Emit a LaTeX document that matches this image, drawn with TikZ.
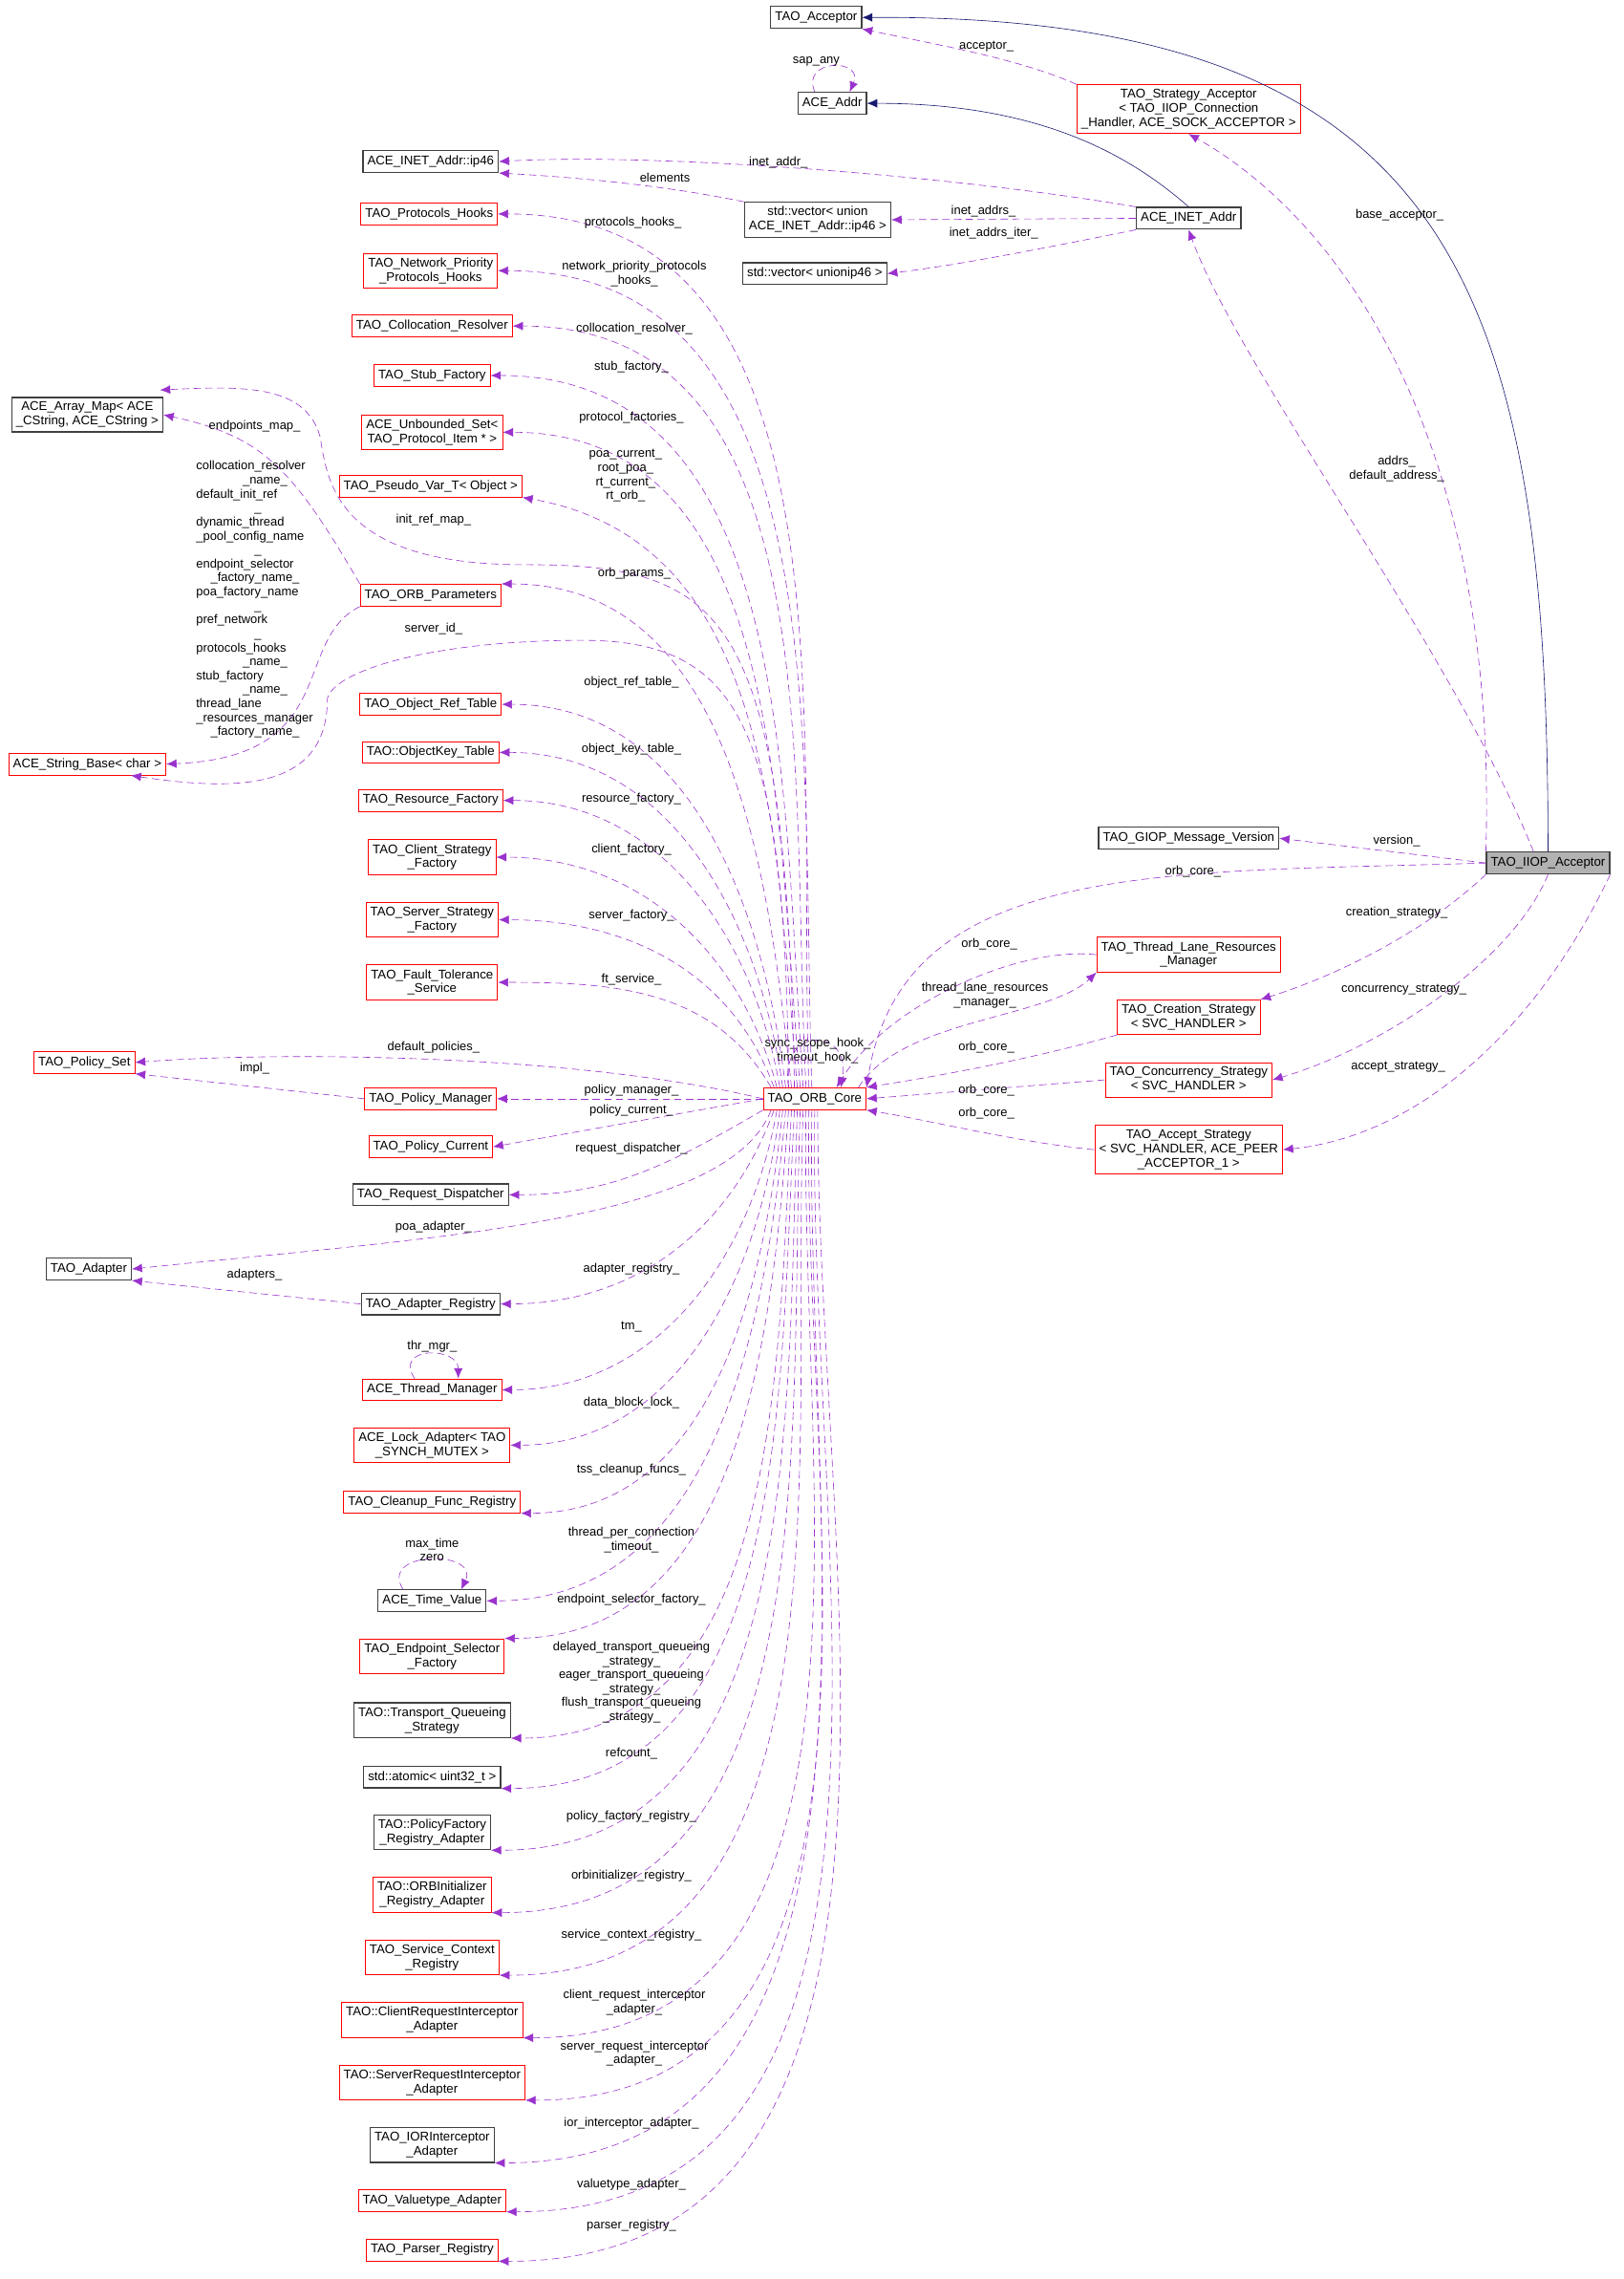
\documentclass[tikz,border=0pt]{standalone}
\usepackage{fontspec}
\setmainfont{Liberation Sans}
\usetikzlibrary{arrows.meta}
\definecolor{depcol}{HTML}{9A32CD}
\definecolor{inhcol}{HTML}{191970}
\tikzset{
  cls/.style={draw=red, line width=0.6pt, align=center, inner sep=3pt, minimum height=15pt, font=\fontsize{8.7}{9.8}\selectfont},
  clsb/.style={cls, draw=black!75, line width=0.8pt},
  cur/.style={clsb, fill=black!30},
  dep/.style={depcol, dashed, dash pattern=on 5pt off 3pt, -{Latex[length=7pt,width=6pt]}},
  inh/.style={inhcol, -{Latex[length=7pt,width=6pt]}},
  lbl/.style={align=center, inner sep=0pt, font=\fontsize{8.5}{9.6}\selectfont}
}
\begin{document}
\begin{tikzpicture}[x=1pt,y=1pt]
\useasboundingbox (0,0) rectangle (1116,-1566);
% top part
\node[clsb] (acceptor) at (561,-12) {TAO\_Acceptor};
\node[clsb] (addr) at (572,-71) {ACE\_Addr};
\node[cls] (stratacc) at (817,-75) {TAO\_Strategy\_Acceptor\\< TAO\_IIOP\_Connection\\\_Handler, ACE\_SOCK\_ACCEPTOR >};
\node[clsb] (ip46) at (296,-111) {ACE\_INET\_Addr::ip46};
\node[clsb] (vecunion) at (562,-151) {std::vector< union\\ ACE\_INET\_Addr::ip46 >};
\node[clsb] (inetaddr) at (817,-150) {ACE\_INET\_Addr};
\node[clsb] (vecip) at (560,-188) {std::vector< unionip46 >};
% left column
\node[cls] (prothooks) at (295,-147) {TAO\_Protocols\_Hooks};
\node[cls] (netprio) at (296,-186) {TAO\_Network\_Priority\\\_Protocols\_Hooks};
\node[cls] (collres) at (297,-224) {TAO\_Collocation\_Resolver};
\node[cls] (stubfac) at (297,-258) {TAO\_Stub\_Factory};
\node[cls] (unbset) at (297,-297) {ACE\_Unbounded\_Set<\\TAO\_Protocol\_Item * >};
\node[cls] (pseudo) at (296,-334) {TAO\_Pseudo\_Var\_T< Object >};
\node[clsb] (arraymap) at (60,-285) {ACE\_Array\_Map< ACE\\\_CString, ACE\_CString >};
\node[cls] (orbparams) at (296,-409) {TAO\_ORB\_Parameters};
\node[cls] (strbase) at (60,-525) {ACE\_String\_Base< char >};
\node[cls] (objref) at (296,-484) {TAO\_Object\_Ref\_Table};
\node[cls] (objkey) at (296,-517) {TAO::ObjectKey\_Table};
\node[cls] (resfac) at (296,-550) {TAO\_Resource\_Factory};
\node[cls] (clifac) at (297,-589) {TAO\_Client\_Strategy\\\_Factory};
\node[cls] (srvfac) at (297,-632) {TAO\_Server\_Strategy\\\_Factory};
\node[cls] (ftserv) at (297,-675) {TAO\_Fault\_Tolerance\\\_Service};
\node[cls] (polset) at (58,-730) {TAO\_Policy\_Set};
\node[cls] (polmgr) at (296,-755) {TAO\_Policy\_Manager};
\node[cls] (polcur) at (296,-788) {TAO\_Policy\_Current};
\node[clsb] (reqdisp) at (296,-821) {TAO\_Request\_Dispatcher};
\node[clsb] (adapter) at (61,-872) {TAO\_Adapter};
\node[clsb] (adreg) at (296,-896) {TAO\_Adapter\_Registry};
\node[cls] (thrmgr) at (297,-955) {ACE\_Thread\_Manager};
\node[cls] (lockad) at (297,-993) {ACE\_Lock\_Adapter< TAO\\\_SYNCH\_MUTEX >};
\node[cls] (cleanup) at (297,-1032) {TAO\_Cleanup\_Func\_Registry};
\node[clsb] (timeval) at (297,-1100) {ACE\_Time\_Value};
\node[cls] (epsel) at (297,-1138) {TAO\_Endpoint\_Selector\\\_Factory};
\node[clsb] (transq) at (297,-1182) {TAO::Transport\_Queueing\\\_Strategy};
\node[clsb] (atomic) at (297,-1221) {std::atomic< uint32\_t >};
\node[clsb] (polfacreg) at (297,-1259) {TAO::PolicyFactory\\\_Registry\_Adapter};
\node[cls] (orbinit) at (297,-1302) {TAO::ORBInitializer\\\_Registry\_Adapter};
\node[cls] (svcctx) at (297,-1345) {TAO\_Service\_Context\\\_Registry};
\node[cls] (clireq) at (297,-1388) {TAO::ClientRequestInterceptor\\\_Adapter};
\node[cls] (srvreq) at (297,-1431) {TAO::ServerRequestInterceptor\\\_Adapter};
\node[clsb] (iorint) at (297,-1474) {TAO\_IORInterceptor\\\_Adapter};
\node[cls] (valtype) at (297,-1512) {TAO\_Valuetype\_Adapter};
\node[cls] (parser) at (297,-1546) {TAO\_Parser\_Registry};
% middle and right
\node[cls] (core) at (560,-755) {TAO\_ORB\_Core};
\node[clsb] (giop) at (817,-576) {TAO\_GIOP\_Message\_Version};
\node[cur] (iiop) at (1064,-593) {TAO\_IIOP\_Acceptor};
\node[cls] (tlrm) at (817,-656) {TAO\_Thread\_Lane\_Resources\\\_Manager};
\node[cls] (creat) at (817,-699) {TAO\_Creation\_Strategy\\< SVC\_HANDLER >};
\node[cls] (concur) at (817,-742) {TAO\_Concurrency\_Strategy\\< SVC\_HANDLER >};
\node[cls] (accstrat) at (817,-790) {TAO\_Accept\_Strategy\\< SVC\_HANDLER, ACE\_PEER\\\_ACCEPTOR\_1 >};

% inheritance
\draw[inh] (iiop.north) .. controls (1064,-200) and (1000,-10) .. (acceptor.east);
\draw[inh] (inetaddr.north) .. controls (780,-110) and (720,-71) .. (addr.east);

% top relations
\draw[dep] (stratacc.north west) .. controls (700,-40) and (640,-30) .. (acceptor.south east);
\node[lbl] at (678,-32) {acceptor\_};
\draw[dep] ([xshift=-12pt]addr.north) .. controls (550,-40) and (594,-40) .. ([xshift=12pt]addr.north);
\node[lbl] at (561,-42) {sap\_any};
\draw[dep] (inetaddr.north west) .. controls (650,-120) and (450,-105) .. (ip46.east);
\node[lbl] at (535,-112) {inet\_addr\_};
\draw[dep] (vecunion.north west) .. controls (460,-128) and (400,-122) .. (ip46.south east);
\node[lbl] at (457,-122) {elements};
\draw[dep] (inetaddr.west) -- (vecunion.east);
\node[lbl] at (676,-145) {inet\_addrs\_};
\draw[dep] (inetaddr.south west) .. controls (720,-170) and (660,-182) .. (vecip.east);
\node[lbl] at (683,-160) {inet\_addrs\_iter\_};
\draw[dep] (iiop.north west) .. controls (1030,-300) and (920,-150) .. (stratacc.south);
\node[lbl] at (962,-148) {base\_acceptor\_};
\draw[dep] ([xshift=-10pt]iiop.north) .. controls (1000,-450) and (850,-250) .. (inetaddr.south);
\node[lbl] at (960,-322) {addrs\_\\default\_address\_};
\draw[dep] (iiop.west) -- (giop.east);
\node[lbl] at (960,-578) {version\_};
\draw[dep] (iiop.west) .. controls (800,-600) and (620,-590) .. (core.north east);
\node[lbl] at (820,-599) {orb\_core\_};
\draw[dep] (iiop.south west) .. controls (980,-640) and (920,-670) .. (creat.north east);
\node[lbl] at (960,-627) {creation\_strategy\_};
\draw[dep] (iiop.south) .. controls (1040,-660) and (950,-720) .. (concur.east);
\node[lbl] at (965,-680) {concurrency\_strategy\_};
\draw[dep] (iiop.south east) .. controls (1060,-700) and (980,-780) .. (accstrat.east);
\node[lbl] at (961,-733) {accept\_strategy\_};

% relations of TAO_ORB_Core to the right
\draw[dep] (tlrm.west) .. controls (700,-650) and (610,-690) .. ([xshift=15pt]core.north);
\node[lbl] at (680,-649) {orb\_core\_};
\draw[dep] ([xshift=30pt]core.north) .. controls (620,-700) and (720,-700) .. (tlrm.south west);
\node[lbl] at (677,-684) {thread\_lane\_resources\\\_manager\_};
\draw[dep] (creat.south west) .. controls (700,-730) and (640,-740) .. (core.north east);
\node[lbl] at (678,-720) {orb\_core\_};
\draw[dep] (concur.west) -- (core.east);
\node[lbl] at (678,-749) {orb\_core\_};
\draw[dep] (accstrat.west) .. controls (700,-785) and (640,-770) .. (core.south east);
\node[lbl] at (678,-765) {orb\_core\_};
\draw[dep] ([xshift=-18pt]core.north) .. controls (535,-705) and (585,-705) .. ([xshift=18pt]core.north);
\node[lbl] at (562,-722) {sync\_scope\_hook\_\\timeout\_hook\_};

% relations of TAO_ORB_Core upwards
\draw[dep] ([xshift=-4pt]core.north) to[out=92,in=0] (prothooks.east);
\node[lbl] at (435,-153) {protocols\_hooks\_};
\draw[dep] ([xshift=-2pt]core.north) to[out=92,in=0] (netprio.east);
\node[lbl] at (436,-188) {network\_priority\_protocols\\\_hooks\_};
\draw[dep] ([xshift=-6pt]core.north) to[out=93,in=0] (collres.east);
\node[lbl] at (436,-226) {collocation\_resolver\_};
\draw[dep] ([xshift=-8pt]core.north) to[out=94,in=0] (stubfac.east);
\node[lbl] at (434,-252) {stub\_factory\_};
\draw[dep] ([xshift=-10pt]core.north) to[out=95,in=0] (unbset.east);
\node[lbl] at (434,-287) {protocol\_factories\_};
\draw[dep] ([xshift=-12pt]core.north) to[out=95,in=-10] (pseudo.south east);
\node[lbl] at (430,-327) {poa\_current\_\\root\_poa\_\\rt\_current\_\\rt\_orb\_};
\draw[dep] ([xshift=-14pt]core.north) .. controls (540,-420) and (500,-388) .. (360,-388)
  .. controls (230,-388) and (225,-330) .. (220,-300) .. controls (210,-265) and (170,-265) .. (110,-268);
\node[lbl] at (298,-357) {init\_ref\_map\_};
\draw[dep] ([xshift=-16pt]core.north) to[out=96,in=0] (orbparams.north east);
\node[lbl] at (436,-394) {orb\_params\_};
\draw[dep] ([xshift=-18pt]core.north) .. controls (540,-500) and (510,-440) .. (400,-440)
  .. controls (300,-440) and (230,-460) .. (225,-480) .. controls (225,-540) and (170,-545) .. ([xshift=30pt]strbase.south);
\node[lbl] at (298,-432) {server\_id\_};
\draw[dep] ([xshift=-20pt]core.north) to[out=97,in=0] (objref.east);
\node[lbl] at (434,-469) {object\_ref\_table\_};
\draw[dep] ([xshift=-22pt]core.north) to[out=98,in=0] (objkey.east);
\node[lbl] at (434,-515) {object\_key\_table\_};
\draw[dep] ([xshift=-24pt]core.north) to[out=100,in=0] (resfac.east);
\node[lbl] at (434,-549) {resource\_factory\_};
\draw[dep] ([xshift=-26pt]core.north) to[out=105,in=0] (clifac.east);
\node[lbl] at (434,-584) {client\_factory\_};
\draw[dep] ([xshift=-28pt]core.north) to[out=110,in=0] (srvfac.east);
\node[lbl] at (434,-629) {server\_factory\_};
\draw[dep] ([xshift=-30pt]core.north) to[out=120,in=0] (ftserv.east);
\node[lbl] at (434,-673) {ft\_service\_};

% ORB parameters
\draw[dep] (orbparams.north west) .. controls (200,-320) and (180,-300) .. (arraymap.east);
\node[lbl] at (175,-293) {endpoints\_map\_};
\draw[dep] (orbparams.south west) .. controls (200,-440) and (235,-520) .. (strbase.east);
\node[lbl, align=left] at (175,-412) {collocation\_resolver\\\hspace*{32pt}\_name\_\\default\_init\_ref\\\hspace*{40pt}\_\\dynamic\_thread\\\_pool\_config\_name\\\hspace*{40pt}\_\\endpoint\_selector\\\hspace*{10pt}\_factory\_name\_\\poa\_factory\_name\\\hspace*{40pt}\_\\pref\_network\\\hspace*{40pt}\_\\protocols\_hooks\\\hspace*{32pt}\_name\_\\stub\_factory\\\hspace*{32pt}\_name\_\\thread\_lane\\\_resources\_manager\\\hspace*{10pt}\_factory\_name\_};

% relations of TAO_ORB_Core sideways
\draw[dep] (core.west) .. controls (400,-725) and (200,-722) .. (polset.east);
\node[lbl] at (298,-720) {default\_policies\_};
\draw[dep] (core.west) -- (polmgr.east);
\node[lbl] at (434,-749) {policy\_manager\_};
\draw[dep] (core.west) -- (polcur.east);
\node[lbl] at (434,-763) {policy\_current\_};
\draw[dep] (core.south west) to[out=-150,in=0] (reqdisp.east);
\node[lbl] at (434,-789) {request\_dispatcher\_};
\draw[dep] (polmgr.west) -- (polset.south east);
\node[lbl] at (175,-734) {impl\_};
\draw[dep] ([xshift=-30pt]core.south) .. controls (500,-840) and (300,-850) .. (adapter.east);
\node[lbl] at (298,-843) {poa\_adapter\_};
\draw[dep] (adreg.west) -- (adapter.south east);
\node[lbl] at (175,-876) {adapters\_};

% relations of TAO_ORB_Core downwards
\draw[dep] ([xshift=-28pt]core.south) to[out=-110,in=0] (adreg.east);
\node[lbl] at (434,-872) {adapter\_registry\_};
\draw[dep] ([xshift=-26pt]core.south) to[out=-100,in=0] (thrmgr.east);
\node[lbl] at (434,-912) {tm\_};
\draw[dep] ([xshift=-12pt]thrmgr.north) .. controls (270,-925) and (315,-925) .. ([xshift=18pt]thrmgr.north);
\node[lbl] at (297,-925) {thr\_mgr\_};
\draw[dep] ([xshift=-24pt]core.south) to[out=-97,in=0] (lockad.east);
\node[lbl] at (434,-964) {data\_block\_lock\_};
\draw[dep] ([xshift=-22pt]core.south) to[out=-96,in=0] (cleanup.south east);
\node[lbl] at (434,-1010) {tss\_cleanup\_funcs\_};
\draw[dep] ([xshift=-20pt]core.south) to[out=-95,in=0] (timeval.east);
\node[lbl] at (434,-1058) {thread\_per\_connection\\\_timeout\_};
\draw[dep] ([xshift=-20pt]timeval.north) .. controls (260,-1065) and (330,-1065) .. ([xshift=20pt]timeval.north);
\node[lbl] at (297,-1065) {max\_time\\zero};
\draw[dep] ([xshift=-18pt]core.south) to[out=-94,in=0] (epsel.north east);
\node[lbl] at (434,-1099) {endpoint\_selector\_factory\_};
\draw[dep] ([xshift=-16pt]core.south) to[out=-93,in=0] (transq.south east);
\node[lbl] at (434,-1156) {delayed\_transport\_queueing\\\_strategy\_\\eager\_transport\_queueing\\\_strategy\_\\flush\_transport\_queueing\\\_strategy\_};
\draw[dep] ([xshift=-14pt]core.south) to[out=-93,in=0] (atomic.south east);
\node[lbl] at (434,-1205) {refcount\_};
\draw[dep] ([xshift=-12pt]core.south) to[out=-92,in=0] (polfacreg.south east);
\node[lbl] at (434,-1248) {policy\_factory\_registry\_};
\draw[dep] ([xshift=-10pt]core.south) to[out=-92,in=0] (orbinit.south east);
\node[lbl] at (434,-1289) {orbinitializer\_registry\_};
\draw[dep] ([xshift=-8pt]core.south) to[out=-92,in=0] (svcctx.south east);
\node[lbl] at (434,-1330) {service\_context\_registry\_};
\draw[dep] ([xshift=-6pt]core.south) to[out=-91,in=0] (clireq.south east);
\node[lbl] at (436,-1376) {client\_request\_interceptor\\\_adapter\_};
\draw[dep] ([xshift=-4pt]core.south) to[out=-91,in=0] (srvreq.south east);
\node[lbl] at (436,-1411) {server\_request\_interceptor\\\_adapter\_};
\draw[dep] ([xshift=-2pt]core.south) to[out=-91,in=0] (iorint.south east);
\node[lbl] at (434,-1459) {ior\_interceptor\_adapter\_};
\draw[dep] (core.south) to[out=-91,in=0] (valtype.south east);
\node[lbl] at (434,-1501) {valuetype\_adapter\_};
\draw[dep] ([xshift=2pt]core.south) to[out=-90,in=0] (parser.south east);
\node[lbl] at (434,-1529) {parser\_registry\_};
\end{tikzpicture}
\end{document}
